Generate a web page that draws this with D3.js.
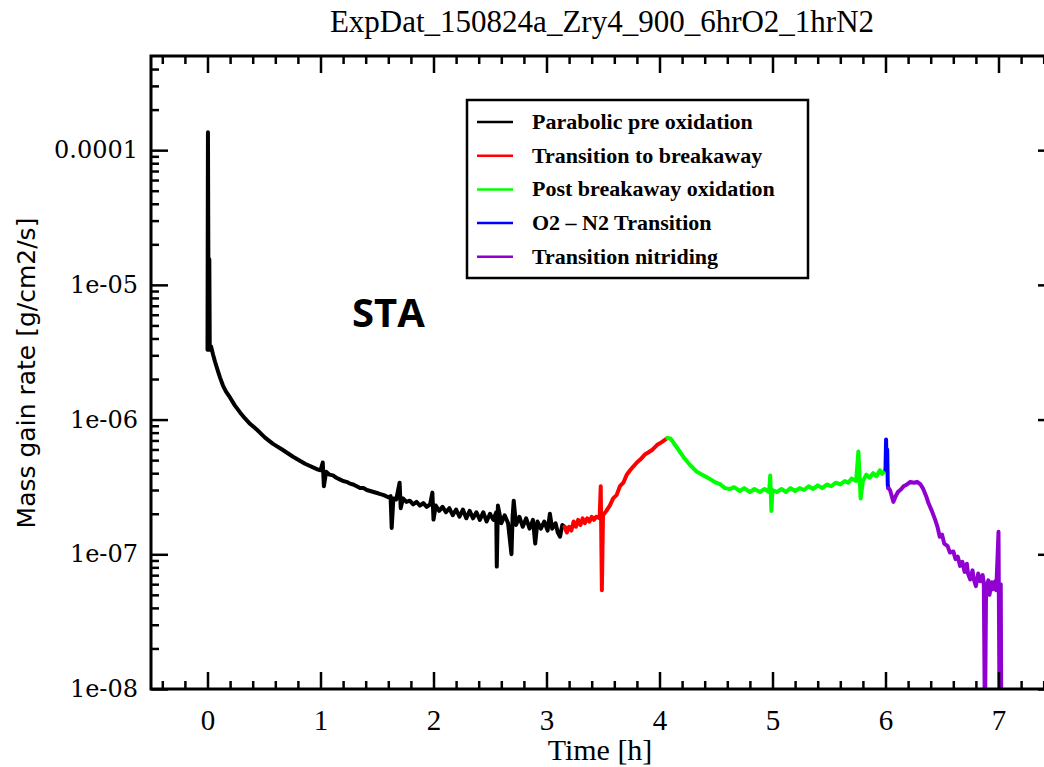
<!DOCTYPE html>
<html>
<head>
<meta charset="utf-8">
<script src="https://cdn.jsdelivr.net/npm/d3@7"></script>
<style>
  body { margin: 0; background: #fff; }
  svg { display: block; }
</style>
</head>
<body>
<svg width="1044" height="767"></svg>
<script>
// chart text
const TITLE = 'ExpDat_150824a_Zry4_900_6hrO2_1hrN2';
const X_LABEL = 'Time [h]';
const Y_LABEL = 'Mass gain rate [g/cm2/s]';
const NOTE = 'STA';

// tick values and labels
const xTicks = [0, 1, 2, 3, 4, 5, 6, 7];
const yTicks = [1e-4, 1e-5, 1e-6, 1e-7, 1e-8];
const yTickLabels = ['0.0001', '1e-05', '1e-06', '1e-07', '1e-08'];

// series names and colours
const seriesNames = [
    'Parabolic pre oxidation',
    'Transition to breakaway',
    'Post breakaway oxidation',
    'O2 \u2013 N2 Transition',
    'Transition nitriding'
];
const seriesColors = ['#000000', '#ff0000', '#00ff00', '#0000ff', '#9000d0'];

// [time h, rate g/cm2/s]
const parabolic = [
    [0.000, 3.3e-6], [0.004, 1.36e-4], [0.008, 1.2e-5], [0.012, 3.3e-6], [0.016, 1.55e-5],
    [0.020, 3.4e-6], [0.031, 3.5e-6], [0.049, 3.04e-6], [0.066, 2.7e-6], [0.093, 2.28e-6],
    [0.111, 2.05e-6], [0.137, 1.79e-6], [0.164, 1.61e-6], [0.199, 1.46e-6], [0.243, 1.27e-6],
    [0.288, 1.13e-6], [0.332, 1.02e-6], [0.376, 9.3e-7], [0.438, 8.4e-7], [0.509, 7.35e-7],
    [0.58, 6.6e-7], [0.66, 6.0e-7], [0.757, 5.3e-7], [0.863, 4.7e-7], [0.978, 4.25e-7],
    [1.00, 4.2e-7], [1.02, 4.8e-7], [1.03, 3.2e-7], [1.05, 4.1e-7], [1.08, 3.9e-7],
    [1.11, 3.85e-7], [1.14, 3.7e-7], [1.17, 3.6e-7], [1.20, 3.5e-7], [1.23, 3.45e-7],
    [1.26, 3.35e-7], [1.29, 3.3e-7], [1.32, 3.2e-7], [1.35, 3.1e-7], [1.38, 3.1e-7],
    [1.41, 3.0e-7], [1.44, 2.95e-7], [1.47, 2.9e-7], [1.50, 2.85e-7], [1.53, 2.8e-7],
    [1.56, 2.75e-7], [1.60, 2.65e-7], [1.62, 2.7e-7], [1.63, 1.57e-7], [1.645, 2.6e-7],
    [1.67, 2.55e-7], [1.70, 3.4e-7], [1.71, 2.2e-7], [1.73, 2.6e-7], [1.76, 2.45e-7],
    [1.79, 2.5e-7], [1.82, 2.35e-7], [1.85, 2.45e-7], [1.88, 2.3e-7], [1.91, 2.4e-7],
    [1.94, 2.25e-7], [1.97, 2.35e-7], [1.99, 2.87e-7], [2.00, 1.81e-7], [2.02, 2.3e-7],
    [2.05, 2.1e-7], [2.08, 2.25e-7], [2.11, 2.05e-7], [2.14, 2.2e-7], [2.17, 1.95e-7],
    [2.20, 2.15e-7], [2.23, 1.9e-7], [2.26, 2.15e-7], [2.29, 1.85e-7], [2.32, 2.1e-7],
    [2.35, 1.85e-7], [2.38, 2.05e-7], [2.41, 1.8e-7], [2.44, 2.05e-7], [2.47, 1.75e-7],
    [2.50, 2.0e-7], [2.53, 1.8e-7], [2.555, 2.05e-7], [2.56, 8.1e-8], [2.57, 2.3e-7],
    [2.60, 1.7e-7], [2.63, 1.95e-7], [2.66, 1.7e-7], [2.69, 1.0e-7], [2.70, 1.9e-7],
    [2.71, 2.5e-7], [2.73, 1.65e-7], [2.76, 1.9e-7], [2.79, 1.6e-7], [2.82, 1.85e-7],
    [2.85, 1.55e-7], [2.88, 1.8e-7], [2.90, 1.2e-7], [2.92, 1.75e-7], [2.95, 1.55e-7],
    [2.98, 1.75e-7], [3.01, 1.5e-7], [3.03, 2.0e-7], [3.05, 1.55e-7], [3.08, 1.7e-7],
    [3.10, 1.45e-7], [3.12, 1.35e-7], [3.14, 1.65e-7], [3.16, 1.6e-7]
];
const breakaway = [
    [3.16, 1.6e-7], [3.18, 1.45e-7], [3.20, 1.6e-7], [3.22, 1.5e-7], [3.24, 1.75e-7],
    [3.26, 1.6e-7], [3.28, 1.8e-7], [3.30, 1.65e-7], [3.32, 1.85e-7], [3.34, 1.7e-7],
    [3.36, 1.85e-7], [3.38, 1.75e-7], [3.40, 1.9e-7], [3.42, 1.8e-7], [3.44, 1.9e-7],
    [3.47, 1.85e-7], [3.48, 3.2e-7], [3.49, 5.4e-8], [3.50, 1.95e-7], [3.53, 2.1e-7],
    [3.56, 2.3e-7], [3.59, 2.6e-7], [3.62, 2.75e-7], [3.65, 3.2e-7], [3.68, 3.4e-7],
    [3.71, 3.9e-7], [3.74, 4.2e-7], [3.77, 4.5e-7], [3.80, 4.8e-7], [3.83, 5.05e-7],
    [3.87, 5.5e-7], [3.90, 5.7e-7], [3.94, 6.0e-7], [3.98, 6.5e-7], [4.02, 6.8e-7],
    [4.07, 7.3e-7]
];
const postBreakaway = [
    [4.07, 7.3e-7], [4.10, 7.2e-7], [4.12, 6.8e-7], [4.16, 6.1e-7], [4.21, 5.3e-7],
    [4.27, 4.6e-7], [4.33, 4.1e-7], [4.39, 3.85e-7], [4.45, 3.6e-7], [4.50, 3.4e-7],
    [4.54, 3.3e-7], [4.58, 3.1e-7], [4.62, 3.05e-7], [4.66, 3.15e-7], [4.71, 2.95e-7],
    [4.75, 3.1e-7], [4.80, 2.9e-7], [4.84, 3.05e-7], [4.89, 2.9e-7], [4.93, 3.05e-7],
    [4.97, 2.9e-7], [4.98, 3.85e-7], [4.99, 2.1e-7], [5.00, 3.0e-7], [5.04, 2.9e-7],
    [5.08, 3.05e-7], [5.12, 2.9e-7], [5.16, 3.1e-7], [5.20, 2.95e-7], [5.24, 3.1e-7],
    [5.28, 3.0e-7], [5.32, 3.2e-7], [5.36, 3.05e-7], [5.40, 3.25e-7], [5.44, 3.1e-7],
    [5.48, 3.3e-7], [5.52, 3.2e-7], [5.56, 3.4e-7], [5.60, 3.3e-7], [5.64, 3.5e-7],
    [5.67, 3.4e-7], [5.70, 3.65e-7], [5.74, 3.5e-7], [5.76, 5.8e-7], [5.78, 2.6e-7],
    [5.80, 3.5e-7], [5.83, 3.9e-7], [5.86, 3.7e-7], [5.89, 4.0e-7], [5.92, 3.8e-7],
    [5.95, 4.2e-7], [5.97, 3.95e-7], [6.00, 4.25e-7]
];
const o2n2 = [
    [6.00, 4.25e-7], [6.005, 7.1e-7], [6.01, 4.5e-7], [6.015, 6.0e-7], [6.02, 3.3e-7],
    [6.025, 3.1e-7]
];
const nitriding = [
    [6.025, 3.1e-7], [6.04, 3.0e-7], [6.07, 2.45e-7], [6.09, 2.7e-7], [6.11, 2.9e-7],
    [6.14, 3.05e-7], [6.16, 3.2e-7], [6.19, 3.3e-7], [6.22, 3.45e-7], [6.25, 3.4e-7],
    [6.28, 3.45e-7], [6.31, 3.3e-7], [6.33, 3.1e-7], [6.36, 2.7e-7], [6.38, 2.4e-7],
    [6.41, 2.1e-7], [6.44, 1.8e-7], [6.46, 1.6e-7], [6.48, 1.35e-7], [6.50, 1.4e-7],
    [6.52, 1.2e-7], [6.55, 1.15e-7], [6.57, 1.03e-7], [6.60, 1.05e-7], [6.62, 9.2e-8],
    [6.64, 9.6e-8], [6.66, 8.2e-8], [6.68, 8.8e-8], [6.70, 7.4e-8], [6.72, 8.5e-8],
    [6.73, 7.2e-8], [6.75, 6.5e-8], [6.77, 7.6e-8], [6.78, 6.6e-8], [6.80, 5.8e-8],
    [6.82, 7.2e-8], [6.84, 6.3e-8], [6.86, 7.0e-8], [6.87, 6.0e-8], [6.88, 5e-9],
    [6.89, 5.7e-8], [6.91, 6.4e-8], [6.92, 5.0e-8], [6.94, 6.2e-8], [6.95, 5.5e-8],
    [6.97, 6.3e-8], [6.98, 5.4e-8], [7.00, 1.47e-7], [7.01, 5e-9], [7.02, 6.0e-8],
    [7.025, 5e-9]
];
const allSeries = [parabolic, breakaway, postBreakaway, o2n2, nitriding];

// layout
const plot = { left: 151, top: 56, right: 1055, bottom: 689 };
const svg = d3.select('svg');

var x = d3.scaleLinear().domain([-0.5, 7.5]).range([plot.left, plot.right]);
var y = d3.scaleLog().domain([1e-8, 5e-4]).range([plot.bottom, plot.top]);

// minor tick positions
var xMinor = d3.range(-2, 38).filter(function(i) { return i % 5 !== 0; }).map(function(i) { return i / 5; });
var yMinor = [];
[1e-8, 1e-7, 1e-6, 1e-5, 1e-4].forEach(function(dec) {
    for (var k = 2; k <= 9; k++) {
        if (dec * k < 5e-4) yMinor.push(dec * k);
    }
});

// clip for data
svg.append('defs').append('clipPath').attr('id', 'clip')
    .append('rect')
    .attr('x', plot.left).attr('y', plot.top)
    .attr('width', plot.right - plot.left).attr('height', plot.bottom - plot.top);

// data lines
var line = d3.line()
    .x(function(d) { return x(d[0]); })
    .y(function(d) { return y(d[1]); });

var lines = svg.append('g').attr('clip-path', 'url(#clip)');
allSeries.forEach(function(s, i) {
    lines.append('path')
        .datum(s)
        .attr('fill', 'none')
        .attr('stroke', seriesColors[i])
        .attr('stroke-width', 4)
        .attr('stroke-linejoin', 'round')
        .attr('stroke-linecap', 'round')
        .attr('d', line);
});

// axes: major and minor ticks on all four sides, pointing inward
function styleAxis(g) {
    g.select('.domain').remove();
    g.selectAll('.tick line').attr('stroke', '#000').attr('stroke-width', 2.5);
}

svg.append('g')
    .attr('transform', 'translate(0,' + plot.bottom + ')')
    .call(d3.axisBottom(x).tickValues(xTicks).tickSizeInner(-17).tickSizeOuter(0).tickPadding(20))
    .call(styleAxis)
    .selectAll('text')
    .attr('font-family', 'Liberation Serif')
    .attr('font-size', 29)
    .attr('fill', '#000');

svg.append('g')
    .attr('transform', 'translate(0,' + plot.bottom + ')')
    .call(d3.axisBottom(x).tickValues(xMinor).tickSizeInner(-8).tickSizeOuter(0).tickFormat(''))
    .call(styleAxis);

svg.append('g')
    .attr('transform', 'translate(0,' + plot.top + ')')
    .call(d3.axisTop(x).tickValues(xTicks).tickSizeInner(-17).tickSizeOuter(0).tickFormat(''))
    .call(styleAxis);

svg.append('g')
    .attr('transform', 'translate(0,' + plot.top + ')')
    .call(d3.axisTop(x).tickValues(xMinor).tickSizeInner(-8).tickSizeOuter(0).tickFormat(''))
    .call(styleAxis);

svg.append('g')
    .attr('transform', 'translate(' + plot.left + ',0)')
    .call(d3.axisLeft(y).tickValues(yTicks).tickSizeInner(-17).tickSizeOuter(0).tickPadding(13)
        .tickFormat(function(d, i) { return yTickLabels[i]; }))
    .call(styleAxis)
    .selectAll('text')
    .attr('font-family', 'DejaVu Serif')
    .attr('font-size', 24)
    .attr('fill', '#000');

svg.append('g')
    .attr('transform', 'translate(' + plot.left + ',0)')
    .call(d3.axisLeft(y).tickValues(yMinor).tickSizeInner(-8).tickSizeOuter(0).tickFormat(''))
    .call(styleAxis);

svg.append('g')
    .attr('transform', 'translate(' + plot.right + ',0)')
    .call(d3.axisRight(y).tickValues(yTicks).tickSizeInner(-17).tickSizeOuter(0).tickFormat(''))
    .call(styleAxis);

svg.append('g')
    .attr('transform', 'translate(' + plot.right + ',0)')
    .call(d3.axisRight(y).tickValues(yMinor).tickSizeInner(-8).tickSizeOuter(0).tickFormat(''))
    .call(styleAxis);

// plot frame
svg.append('rect')
    .attr('x', plot.left).attr('y', plot.top)
    .attr('width', plot.right - plot.left).attr('height', plot.bottom - plot.top)
    .attr('fill', 'none')
    .attr('stroke', '#000')
    .attr('stroke-width', 3);

// title and axis labels
svg.append('text')
    .attr('x', 602).attr('y', 32)
    .attr('text-anchor', 'middle')
    .attr('font-family', 'Liberation Serif')
    .attr('font-size', 31)
    .text(TITLE);

svg.append('text')
    .attr('x', 600).attr('y', 760)
    .attr('text-anchor', 'middle')
    .attr('font-family', 'Liberation Serif')
    .attr('font-size', 30)
    .text(X_LABEL);

svg.append('text')
    .attr('transform', 'translate(35,373) rotate(-90)')
    .attr('text-anchor', 'middle')
    .attr('font-family', 'DejaVu Sans')
    .attr('font-size', 25)
    .text(Y_LABEL);

svg.append('text')
    .attr('x', 352).attr('y', 327)
    .attr('font-family', 'Open Sans')
    .attr('font-weight', 700)
    .attr('font-size', 40)
    .text(NOTE);

// legend
var legend = svg.append('g');
legend.append('rect')
    .attr('x', 467).attr('y', 100)
    .attr('width', 341).attr('height', 178)
    .attr('fill', '#fff')
    .attr('stroke', '#000')
    .attr('stroke-width', 2.5);

seriesNames.forEach(function(name, i) {
    var yy = 122 + i * 33.7;
    legend.append('line')
        .attr('x1', 477).attr('x2', 513)
        .attr('y1', yy).attr('y2', yy)
        .attr('stroke', seriesColors[i])
        .attr('stroke-width', 2.5);
    legend.append('text')
        .attr('x', 532).attr('y', yy + 7)
        .attr('font-family', 'Liberation Serif')
        .attr('font-weight', 700)
        .attr('font-size', 22)
        .text(name);
});
</script>
</body>
</html>
